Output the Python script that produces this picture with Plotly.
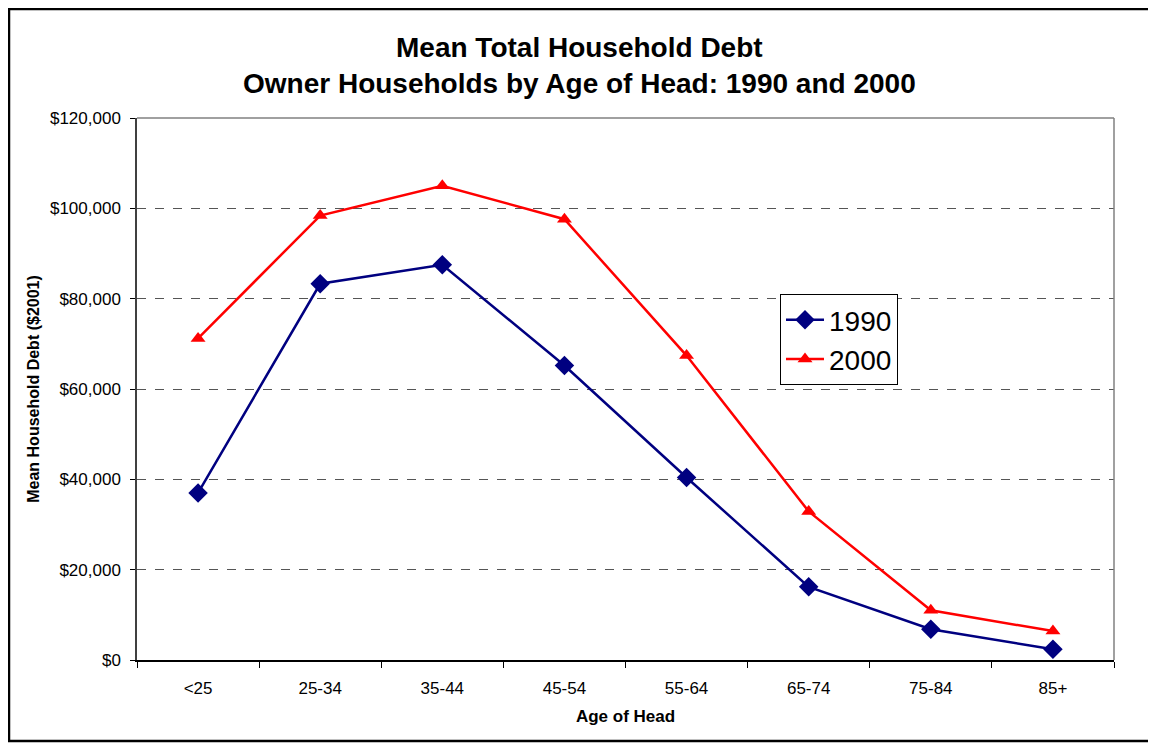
import plotly.graph_objs as go

# age-of-head categories and mean debt ($2001)
ages = ['<25', '25-34', '35-44', '45-54', '55-64', '65-74', '75-84', '85+']
debt_1990 = [37000, 83300, 87500, 65200, 40400, 16200, 6800, 2400]
debt_2000 = [71200, 98400, 105000, 97600, 67400, 32900, 11000, 6400]
y_ticks = [0, 20000, 40000, 60000, 80000, 100000, 120000]
y_labels = ['$0', '$20,000', '$40,000', '$60,000', '$80,000', '$100,000', '$120,000']

# page has an 8px body margin, so the figure is sized to fit the window
W, H = 1148, 735
L, R, T, B = 129, 42, 110, 83
pw, ph = W - L - R, H - T - B


def px(x):
    return (x - L) / pw


def py(y):
    return (H - B - y) / ph


font = 'Arial, Liberation Sans, sans-serif'

fig = go.Figure()

fig.add_trace(go.Scatter(x=ages, y=debt_1990, name='1990', mode='lines+markers',
                         line=dict(color='#000080', width=2.5),
                         marker=dict(symbol='diamond', size=15, color='#000080')))
fig.add_trace(go.Scatter(x=ages, y=debt_2000, name='2000', mode='lines+markers',
                         line=dict(color='#ff0000', width=2.5),
                         marker=dict(symbol='triangle-up', size=13, color='#ff0000')))

fig.update_layout(
    width=W, height=H,
    margin=dict(l=L, r=R, t=T, b=B),
    paper_bgcolor='white', plot_bgcolor='white',
    font=dict(family=font, color='black'),
    showlegend=True,
    legend=dict(x=px(772), y=py(286), xanchor='left', yanchor='top',
                bordercolor='black', borderwidth=1, bgcolor='white',
                font=dict(size=28, family=font), tracegroupgap=0, itemwidth=38),
)

fig.update_xaxes(type='category', tickson='boundaries', ticks='outside', ticklen=6,
                 tickcolor='black', showline=True, linecolor='black', linewidth=1.5,
                 showgrid=False, tickfont=dict(size=17), ticklabelstandoff=12,
                 title=dict(text='<b>Age of Head</b>', font=dict(size=17), standoff=13),
                 range=[-0.5, 7.5])
fig.update_yaxes(range=[0, 120000], tickvals=y_ticks, ticktext=y_labels,
                 ticks='outside', ticklen=5, tickcolor='black', ticklabelstandoff=6,
                 showline=True, linecolor='#404040', linewidth=1.5,
                 showgrid=True, gridcolor='#555555', griddash='dash', gridwidth=1,
                 zeroline=False, tickfont=dict(size=17),
                 title=dict(text='<b>Mean Household Debt ($2001)</b>', font=dict(size=16),
                            standoff=6))

# plot area border (top/right grey)
fig.add_shape(type='line', xref='paper', yref='paper', x0=0, x1=1, y0=1, y1=1,
              line=dict(color='#808080', width=1.5))
fig.add_shape(type='line', xref='paper', yref='paper', x0=1, x1=1, y0=0, y1=1,
              line=dict(color='#808080', width=1.5))
# outer chart border
fig.add_shape(type='rect', xref='paper', yref='paper',
              x0=px(1), x1=px(1146), y0=py(733), y1=py(1),
              line=dict(color='black', width=2.5))

fig.add_annotation(text='<b>Mean Total Household Debt</b>', xref='paper', yref='paper',
                   x=px(571), y=py(39), yanchor='middle', showarrow=False,
                   font=dict(size=28, family=font))
fig.add_annotation(text='<b>Owner Households by Age of Head: 1990 and 2000</b>',
                   xref='paper', yref='paper', yanchor='middle',
                   x=px(571), y=py(76), showarrow=False,
                   font=dict(size=28, family=font))

fig.write_html('out.html')
